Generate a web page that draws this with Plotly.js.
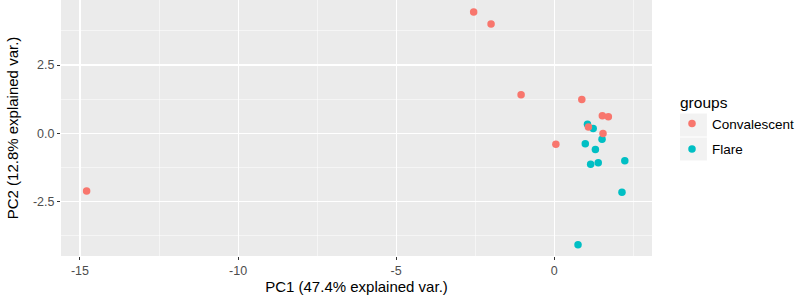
<!DOCTYPE html>
<html><head><meta charset="utf-8">
<script src="https://cdn.plot.ly/plotly-3.0.1.min.js"></script>
<style>html,body{margin:0;padding:0;background:#fff}#chart{width:800px;height:295px}</style>
</head><body><div id="chart"></div>
<script>
// ---- data ----
const groupNames = ["Convalescent", "Flare"];
const convalescentPC1 = [-14.79, -2.55, -2.00, -1.05, 0.87, 0.05, 1.52, 1.71, 1.08, 1.54];
const convalescentPC2 = [-2.11, 4.44, 4.00, 1.41, 1.24, -0.40, 0.64, 0.61, 0.23, -0.01];
const flarePC1 = [1.05, 1.23, 1.51, 0.98, 1.30, 1.15, 1.39, 2.23, 2.14, 0.75];
const flarePC2 = [0.33, 0.18, -0.22, -0.38, -0.59, -1.13, -1.08, -1.00, -2.16, -4.08];
const xTickVals = [-15, -10, -5, 0];
const xTickText = ["-15", "-10", "-5", "0"];
const xMinorVals = [-12.5, -7.5, -2.5, 2.5];
const yTickVals = [-2.5, 0, 2.5];
const yTickText = ["-2.5", "0.0", "2.5"];
const yMinorVals = [-3.75, -1.25, 1.25, 3.75];
const xTitle = "PC1 (47.4% explained var.)";
const yTitle = "PC2 (12.8% explained var.)";
const legendTitle = "groups";

// ---- styling ----
const FONT = "Liberation Sans, Arial, Helvetica, sans-serif";
const W = 800, H = 295;
const M = {l: 61, r: 147, t: 0, b: 39};
const plotW = W - M.l - M.r, plotH = H - M.t - M.b;
const px2x = px => (px - M.l) / plotW;
const px2y = py => 1 - (py - M.t) / plotH;

const traces = [
  {
    type: "scatter", mode: "markers", name: groupNames[1],
    x: flarePC1, y: flarePC2, legendrank: 2, legendgroup: "b",
    marker: {color: "#00BFC4", size: 7.5, line: {width: 0}},
    hoverinfo: "x+y"
  },
  {
    type: "scatter", mode: "markers", name: groupNames[0],
    x: convalescentPC1, y: convalescentPC2, legendrank: 1, legendgroup: "a",
    marker: {color: "#F8766D", size: 7.5, line: {width: 0}},
    hoverinfo: "x+y"
  }
];

const axisCommon = {
  showline: false, zeroline: false, showgrid: true,
  gridcolor: "#FFFFFF", gridwidth: 1.1,
  ticks: "outside", ticklen: 3, tickwidth: 1, tickcolor: "#333333",
  tickfont: {family: FONT, size: 12.5, color: "#4D4D4D"},
  fixedrange: true
};

const layout = {
  width: W, height: H,
  margin: M,
  paper_bgcolor: "#FFFFFF",
  plot_bgcolor: "#EBEBEB",
  showlegend: true,
  font: {family: FONT, color: "#000000"},
  xaxis: Object.assign({}, axisCommon, {
    range: [-15.6, 3.09],
    tickmode: "array", tickvals: xTickVals, ticktext: xTickText,
    minor: {tickmode: "array", tickvals: xMinorVals, showgrid: true, gridcolor: "#FFFFFF", gridwidth: 0.5, ticks: ""},
    title: {text: xTitle, font: {family: FONT, size: 15, color: "#000000"}, standoff: 4}
  }),
  yaxis: Object.assign({}, axisCommon, {
    range: [-4.49, 4.88],
    tickmode: "array", tickvals: yTickVals, ticktext: yTickText,
    minor: {tickmode: "array", tickvals: yMinorVals, showgrid: true, gridcolor: "#FFFFFF", gridwidth: 0.5, ticks: ""},
    title: {text: yTitle, font: {family: FONT, size: 15, color: "#000000"}, standoff: 10}
  }),
  legend: {
    x: px2x(679), xanchor: "left",
    y: px2y(88), yanchor: "top",
    bgcolor: "rgba(0,0,0,0)", borderwidth: 0,
    traceorder: "grouped", tracegroupgap: 5,
    indentation: -6,
    font: {family: FONT, size: 13.5, color: "#000000"},
    title: {text: legendTitle, font: {family: FONT, size: 15.5, color: "#000000"}}
  },
  shapes: [
    {type: "rect", xref: "paper", yref: "paper", layer: "above",
     x0: px2x(681), x1: px2x(708), y0: px2y(113.5), y1: px2y(136.5),
     fillcolor: "#F2F2F2", line: {width: 0}},
    {type: "rect", xref: "paper", yref: "paper", layer: "above",
     x0: px2x(681), x1: px2x(708), y0: px2y(137.5), y1: px2y(160.5),
     fillcolor: "#F2F2F2", line: {width: 0}}
  ]
};

Plotly.newPlot("chart", traces, layout, {displayModeBar: false, staticPlot: true});
</script>
</body></html>
